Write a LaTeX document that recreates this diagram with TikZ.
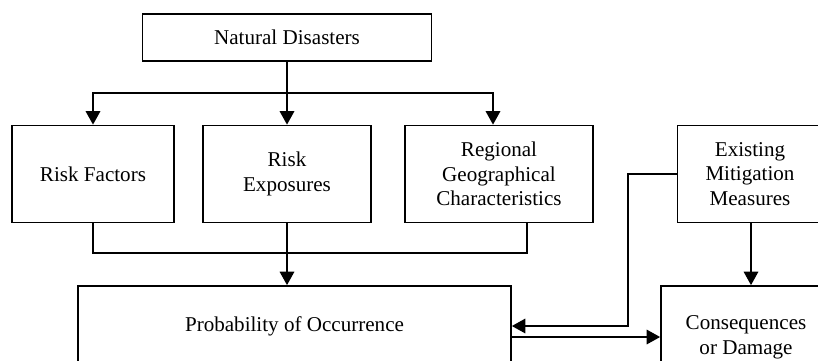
\documentclass[tikz,border=0pt]{standalone}
\usepackage{fontspec}
\setmainfont{Liberation Serif}
\usetikzlibrary{arrows.meta}

\tikzset{
	box/.style={draw, line width=1pt, align=center, inner sep=0pt, font=\fontsize{12}{14}\selectfont},
	link/.style={line width=1pt},
	flow/.style={line width=1pt, -{Triangle[length=0.27cm, width=0.29cm]}}
}

\begin{document}
\begin{tikzpicture}[x=0.02cm, y=-0.02cm]
			%%%%% START %%%%%
			\useasboundingbox (0, 0) rectangle (818, 360);
			\clip (0, 0) rectangle (818, 360);
			
			\node[box, minimum width=5.78cm, minimum height=0.94cm] (dis) at (287, 37.5) {Natural Disasters};
			
			\node[box, minimum width=3.24cm, minimum height=1.94cm] (fac) at (93, 174) {Risk Factors};
			\node[box, minimum width=3.36cm, minimum height=1.94cm] (exp) at (287, 174) {Risk\\Exposures};
			\node[box, minimum width=3.76cm, minimum height=1.94cm] (reg) at (499, 174) {Regional\\Geographical\\Characteristics};
			\node[box, minimum width=2.9cm, minimum height=1.94cm] (mit) at (750, 174) {Existing\\Mitigation\\Measures};
			
			\node[box, minimum width=8.66cm, minimum height=1.6cm] (prob) at (294.5, 326) {Probability of Occurrence};
			\node[box, minimum width=3.4cm, minimum height=2.04cm] (cons) at (746, 337) {Consequences\\or Damage};
			
			% split from the top box
			\coordinate (split) at (287, 93);
			\draw[link] (dis.south) -- (split);
			\draw[flow] (split) -| (fac.north);
			\draw[flow] (split) -- (exp.north);
			\draw[flow] (split) -| ([xshift=-0.12cm]reg.north);
			
			% merge into probability
			\coordinate (merge) at (287, 253);
			\draw[link] (fac.south) |- (merge) -| ([xshift=0.56cm]reg.south);
			\draw[flow] (exp.south) -- (exp.south |- prob.north);
			
			% mitigation links
			\coordinate (bend) at (628, 174);
			\draw[flow] (mit.west) -- (bend) |- (prob.east);
			\draw[flow] (prob.east |- cons.west) -- (cons.west);
			\draw[flow] ([xshift=0.02cm]mit.south) -- ([xshift=0.02cm]mit.south |- cons.north);
			
			%%%%% END %%%%%
\end{tikzpicture}
\end{document}
